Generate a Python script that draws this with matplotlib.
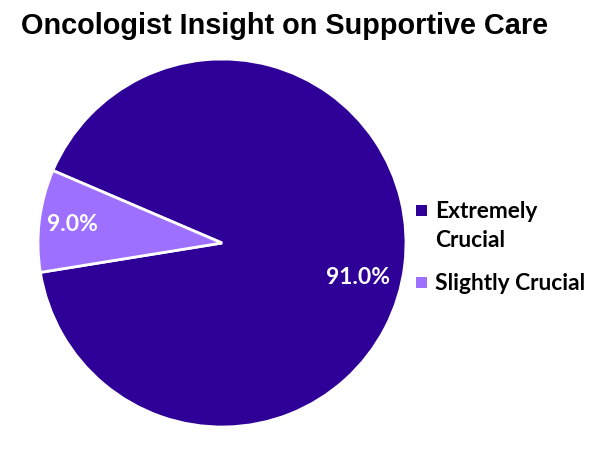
import matplotlib
matplotlib.use("Agg")
import matplotlib.pyplot as plt
from matplotlib.patches import Rectangle

categories = ["Extremely\nCrucial", "Slightly Crucial"]
values = [91.0, 9.0]
colors = ["#2E0098", "#9D70FF"]

W, H = 608, 466
fig = plt.figure(figsize=(W/100, H/100), dpi=100)
cx, cy, r = 222, 243, 184
ax = fig.add_axes([(cx-r)/W, (H-cy-r)/H, 2*r/W, 2*r/H])

wedges, texts, autotexts = ax.pie(
    values, colors=colors, startangle=189.2, counterclock=True,
    autopct="%1.1f%%", pctdistance=0.82, radius=1,
    wedgeprops=dict(edgecolor="white", linewidth=2),
    textprops=dict(color="white", fontsize=16.5, fontweight="bold", family=["Lato", "DejaVu Sans"]))
autotexts[0].set_position((0.739, -0.185))
ax.set_xlim(-1, 1)
ax.set_ylim(-1, 1)
ax.set_aspect("equal")
ax.axis("off")

fig.text(21/W, 1-26/H, "Oncologist Insight on Supportive Care", fontsize=20.8, fontweight="bold",
         family=["Liberation Sans", "DejaVu Sans"], ha="left", va="center")

# manual legend (square aligned with first line of each label)
lx_sq, sq, lx_txt = 416, 11, 435
pitch, gap = 29, 43
base = 218
for lab, col in zip(categories, colors):
    fig.patches.append(Rectangle((lx_sq/W, (H-base+2)/H), sq/W, sq/H,
                                 transform=fig.transFigure, facecolor=col, edgecolor="none"))
    lines = lab.split("\n")
    for j, line in enumerate(lines):
        fig.text(lx_txt/W, (H-(base+j*pitch))/H, line, ha="left", va="baseline",
                 fontsize=16.4, fontweight="bold", family=["Lato", "DejaVu Sans"], color="black")
    base += (len(lines)-1)*pitch + gap

fig.savefig("out.png", dpi=100, facecolor="white")
